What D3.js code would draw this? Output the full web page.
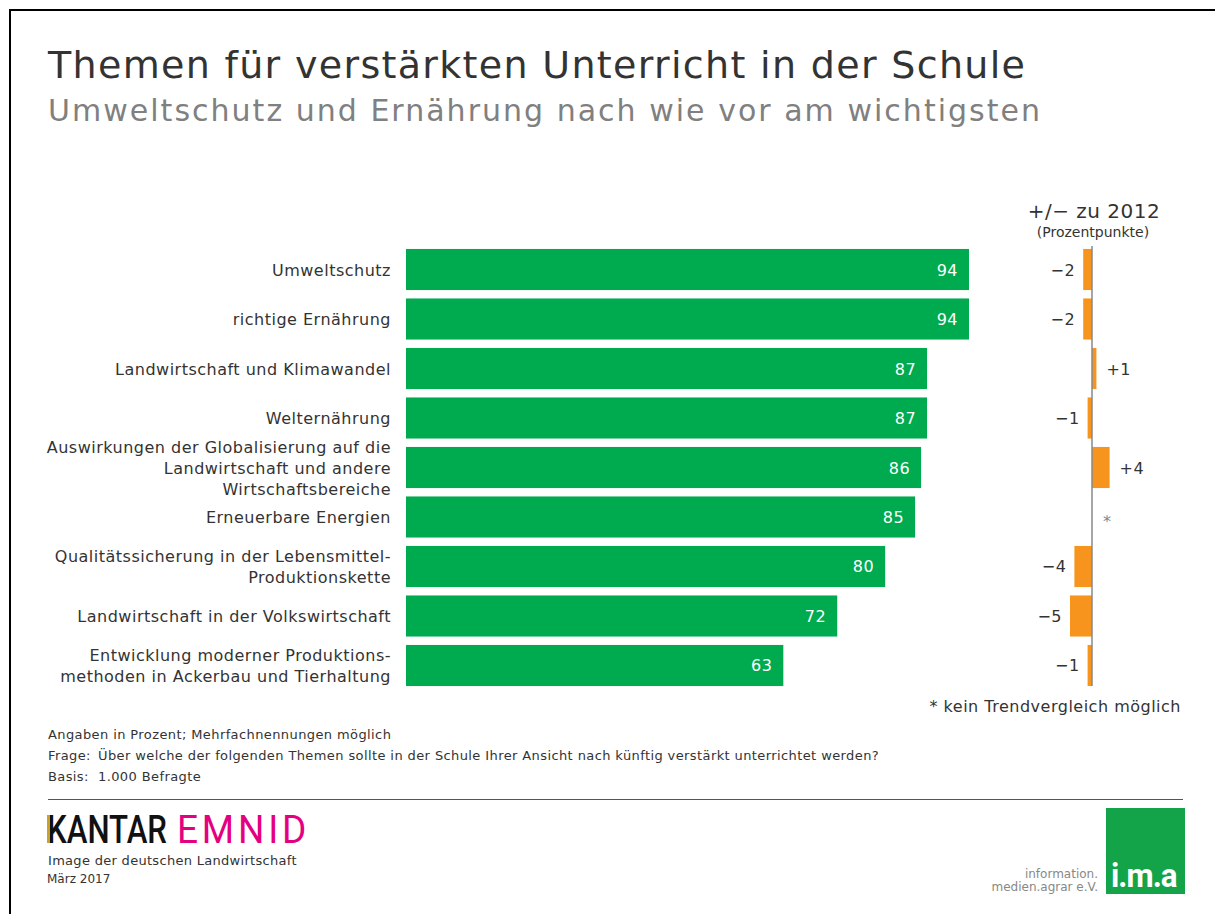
<!DOCTYPE html>
<html>
<head>
<meta charset="utf-8">
<script src="https://cdn.jsdelivr.net/npm/d3@7"></script>
<style>
  body { margin: 0; background: #fff; }
  text { font-family: "DejaVu Sans", Verdana, sans-serif; }
</style>
</head>
<body>
<div id="chart"></div>
<script>
// Themen, Anteil in Prozent und Veränderung zu 2012
var categories = [
  ['Umweltschutz'],
  ['richtige Ernährung'],
  ['Landwirtschaft und Klimawandel'],
  ['Welternährung'],
  ['Auswirkungen der Globalisierung auf die', 'Landwirtschaft und andere', 'Wirtschaftsbereiche'],
  ['Erneuerbare Energien'],
  ['Qualitätssicherung in der Lebensmittel-', 'Produktionskette'],
  ['Landwirtschaft in der Volkswirtschaft'],
  ['Entwicklung moderner Produktions-', 'methoden in Ackerbau und Tierhaltung']
];
var values = [94, 94, 87, 87, 86, 85, 80, 72, 63];
var changes = [-2, -2, 1, -1, 4, null, -4, -5, -1];

var notes = [
  ['', 'Angaben in Prozent; Mehrfachnennungen möglich'],
  ['Frage:', 'Über welche der folgenden Themen sollte in der Schule Ihrer Ansicht nach künftig verstärkt unterrichtet werden?'],
  ['Basis:', '1.000 Befragte']
];

var width = 1215, height = 914;
var green = '#00aa4e', orange = '#f7941d';

var svg = d3.select('#chart').append('svg')
    .attr('width', width)
    .attr('height', height);

// frame
svg.append('rect')
    .attr('x', 10).attr('y', 10)
    .attr('width', width + 20).attr('height', height + 20)
    .attr('fill', 'none')
    .attr('stroke', '#000')
    .attr('stroke-width', 2);

// titles
svg.append('text')
    .attr('x', 48).attr('y', 78)
    .attr('textLength', 977).attr('lengthAdjust', 'spacing')
    .style('font-size', '38px')
    .style('fill', '#333')
    .text('Themen für verstärkten Unterricht in der Schule');
svg.append('text')
    .attr('x', 48).attr('y', 121)
    .attr('textLength', 992).attr('lengthAdjust', 'spacing')
    .style('font-size', '30px')
    .style('fill', '#808080')
    .text('Umweltschutz und Ernährung nach wie vor am wichtigsten');

// scales
var y = d3.scaleBand()
    .domain(d3.range(categories.length))
    .range([245, 690])
    .paddingInner(0.17)
    .paddingOuter(0.08);
var x = d3.scaleLinear().domain([0, 94]).range([406, 969]);
var xc = d3.scaleLinear().domain([-5, 5]).range([1070, 1114]);

// main bars
var rows = svg.selectAll('g.row')
    .data(values)
  .enter().append('g')
    .attr('class', 'row');

rows.append('rect')
    .attr('x', x(0))
    .attr('y', function(d, i) { return y(i); })
    .attr('width', function(d) { return x(d) - x(0); })
    .attr('height', y.bandwidth())
    .attr('fill', green);

rows.append('text')
    .attr('x', function(d) { return x(d) - 11; })
    .attr('y', function(d, i) { return y(i) + y.bandwidth() / 2 + 6; })
    .attr('text-anchor', 'end')
    .style('font-size', '16px')
    .style('letter-spacing', '0.5px')
    .style('fill', '#fff')
    .text(function(d) { return d; });

// category labels
categories.forEach(function(lines, i) {
  var cy = y(i) + y.bandwidth() / 2;
  var lh = 21;
  var t = svg.append('text')
      .attr('text-anchor', 'end')
      .style('font-size', '16px')
      .style('letter-spacing', '0.5px')
      .style('fill', '#333');
  lines.forEach(function(l, k) {
    t.append('tspan')
        .attr('x', 391)
        .attr('y', cy + 6 + (k - (lines.length - 1) / 2) * lh)
        .text(l);
  });
});

// change column header
svg.append('text')
    .attr('x', 1094).attr('y', 218)
    .attr('text-anchor', 'middle')
    .style('font-size', '20px')
    .style('letter-spacing', '0.5px')
    .style('fill', '#333')
    .text('+/− zu 2012');
svg.append('text')
    .attr('x', 1093).attr('y', 237)
    .attr('text-anchor', 'middle')
    .style('font-size', '14px')
    .style('fill', '#333')
    .text('(Prozentpunkte)');

// change bars
changes.forEach(function(d, i) {
  var cy = y(i) + y.bandwidth() / 2;
  if (d === null) {
    svg.append('text')
        .attr('x', xc(0) + 15).attr('y', cy + 10)
        .attr('text-anchor', 'middle')
        .style('font-size', '16px')
        .style('fill', '#888')
        .text('*');
    return;
  }
  svg.append('rect')
      .attr('x', Math.min(xc(0), xc(d)))
      .attr('y', y(i))
      .attr('width', Math.abs(xc(d) - xc(0)))
      .attr('height', y.bandwidth())
      .attr('fill', orange);
  svg.append('text')
      .attr('x', d < 0 ? xc(d) - 8 : xc(d) + 10)
      .attr('y', cy + 6)
      .attr('text-anchor', d < 0 ? 'end' : 'start')
      .style('font-size', '16px')
      .style('letter-spacing', '0.5px')
      .style('fill', '#333')
      .text(d < 0 ? '−' + Math.abs(d) : '+' + d);
});

// zero line
svg.append('line')
    .attr('x1', xc(0)).attr('x2', xc(0))
    .attr('y1', 246).attr('y2', 686)
    .attr('stroke', '#888')
    .attr('stroke-width', 1.5);

svg.append('text')
    .attr('x', 1181).attr('y', 712)
    .attr('text-anchor', 'end')
    .style('font-size', '16px')
    .style('letter-spacing', '0.5px')
    .style('fill', '#333')
    .text('* kein Trendvergleich möglich');

// notes
notes.forEach(function(n, i) {
  var yy = 739 + i * 21;
  svg.append('text').attr('x', 48).attr('y', yy)
      .style('font-size', '13px').style('letter-spacing', '0.4px')
      .style('fill', '#333').text(n[0] === '' ? n[1] : n[0]);
  if (n[0] !== '') {
    svg.append('text').attr('x', 98).attr('y', yy)
        .style('font-size', '13px').style('letter-spacing', '0.4px')
        .style('fill', '#333').text(n[1]);
  }
});

svg.append('line')
    .attr('x1', 48).attr('x2', 1183)
    .attr('y1', 799.5).attr('y2', 799.5)
    .attr('stroke', '#555')
    .attr('stroke-width', 1);

// KANTAR EMNID logo
svg.append('text')
    .attr('transform', 'translate(47,843) scale(0.8,1)')
    .style('font-family', 'Roboto, sans-serif')
    .style('font-weight', '500')
    .style('font-size', '39px')
    .style('fill', '#111')
    .text('KANTAR');
svg.append('rect')
    .attr('x', 47).attr('y', 815).attr('width', 3).attr('height', 28)
    .attr('fill', '#c9a227');
svg.append('text')
    .attr('transform', 'translate(177,843) scale(0.95,1)')
    .style('font-family', 'Roboto, sans-serif')
    .style('font-weight', '400')
    .style('font-size', '39px')
    .style('letter-spacing', '4px')
    .style('fill', '#e4007f')
    .text('EMNID');

svg.append('text')
    .attr('x', 48).attr('y', 865)
    .style('font-size', '13px').style('letter-spacing', '0.3px')
    .style('fill', '#333')
    .text('Image der deutschen Landwirtschaft');
svg.append('text')
    .attr('x', 47).attr('y', 883)
    .style('font-size', '12px').style('fill', '#333')
    .text('März 2017');

// i.m.a logo
svg.append('rect')
    .attr('x', 1106).attr('y', 808).attr('width', 79).attr('height', 86)
    .attr('fill', '#13a44a');
svg.append('text')
    .attr('transform', 'translate(1111,887) scale(0.95,1)')
    .style('font-family', 'Roboto, sans-serif')
    .style('font-weight', '700')
    .style('font-size', '33px')
    .style('letter-spacing', '-1px')
    .style('fill', '#fff')
    .text('i.m.a');
svg.append('text')
    .attr('x', 1098).attr('y', 878)
    .attr('text-anchor', 'end')
    .style('font-size', '12px').style('fill', '#888')
    .text('information.');
svg.append('text')
    .attr('x', 1098).attr('y', 891)
    .attr('text-anchor', 'end')
    .style('font-size', '12px').style('fill', '#888')
    .text('medien.agrar e.V.');
</script>
</body>
</html>
